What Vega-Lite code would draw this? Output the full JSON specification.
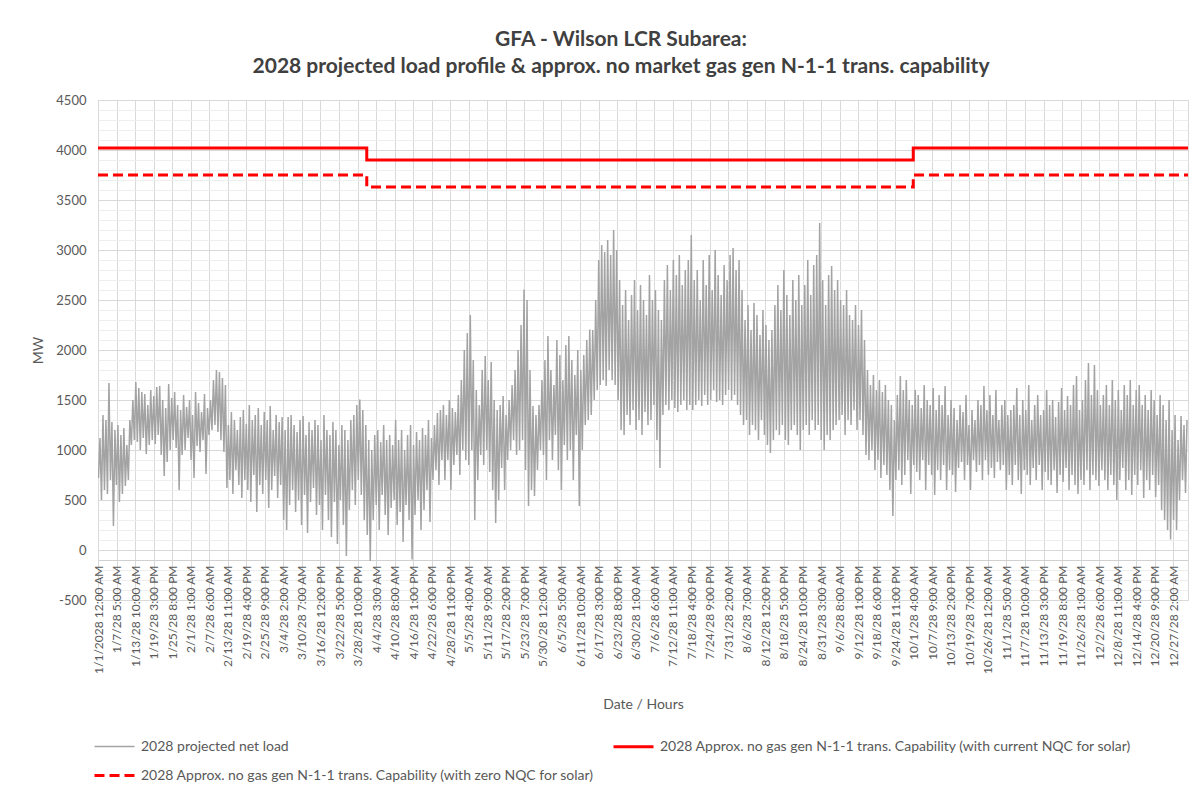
{
"$schema": "https://vega.github.io/schema/vega-lite/v6.json",
"autosize": "none",
"width": 1090,
"height": 500,
"padding": {"left": 98, "top": 100, "right": 6, "bottom": 192},
"background": "white",
"config": {"font": "Lato", "view": {"stroke": "#d9d9d9"}},
"title": {"text": ["GFA - Wilson LCR Subarea:", "2028 projected load profile & approx. no market gas gen N-1-1 trans. capability"], "fontSize": 21, "fontWeight": "bold", "color": "#404040", "anchor": "middle", "offset": 17, "lineHeight": 27, "dx": -22, "font": "Lato"},
"encoding": {
"x": {"field": "h", "type": "quantitative", "scale": {"domain": [0, 8760], "nice": false, "zero": false},
 "axis": {"values": [0,149,298,447,596,745,894,1043,1192,1341,1490,1639,1788,1937,2086,2235,2384,2533,2682,2831,2980,3129,3278,3427,3576,3725,3874,4023,4172,4321,4470,4619,4768,4917,5066,5215,5364,5513,5662,5811,5960,6109,6258,6407,6556,6705,6854,7003,7152,7301,7450,7599,7748,7897,8046,8195,8344,8493,8642],
 "labelExpr": "datum.value === 0 ? '1/1/2028 12:00 AM' : utcFormat(utc(2027, 0, 1, datum.value), '%-m/%-d/28 %-I:%M %p')",
 "labelAngle": -90, "labelFontSize": 12, "labelColor": "#595959", "labelPadding": 5, "ticks": false, "domain": true, "domainColor": "#d0d0d0", "offset": -40, "grid": true, "gridColor": "#d9d9d9", "labelOverlap": false, "labelBound": false, "labelFlush": false,
 "title": "Date / Hours", "titleFontSize": 14, "titleFontWeight": "normal", "titleColor": "#595959", "titlePadding": 24}},
"y": {"field": "v", "type": "quantitative", "scale": {"domain": [-500, 4500], "nice": false, "zero": false},
 "axis": {"values": [-500,-400,-300,-200,-100,0,100,200,300,400,500,600,700,800,900,1000,1100,1200,1300,1400,1500,1600,1700,1800,1900,2000,2100,2200,2300,2400,2500,2600,2700,2800,2900,3000,3100,3200,3300,3400,3500,3600,3700,3800,3900,4000,4100,4200,4300,4400,4500],
 "labelExpr": "datum.value % 500 === 0 ? '' + datum.value : ''",
 "ticks": false, "domain": false, "grid": true,
 "gridColor": {"condition": {"test": "datum.value % 500 === 0", "value": "#d9d9d9"}, "value": "#eeeeee"},
 "labelFontSize": 13, "labelColor": "#595959", "labelPadding": 12,
 "title": "MW", "titleFontSize": 14, "titleFontWeight": "normal", "titleColor": "#595959", "titlePadding": 10}},
"color": {"field": "s", "type": "nominal", "scale": {"domain": ["2028 projected net load", "2028 Approx. no gas gen N-1-1 trans. Capability (with zero NQC for solar)", "2028 Approx. no gas gen N-1-1 trans. Capability (with current NQC for solar)"], "range": ["#a3a3a3", "#ff0000", "#ff0000"]},
 "legend": {"title": null, "orient": "none", "legendX": -5, "legendY": 625, "columns": 2, "symbolType": "stroke", "symbolSize": 1600, "labelFontSize": 14, "labelColor": "#595959", "labelLimit": 700, "columnPadding": 12, "rowPadding": 0, "labelOffset": 5}},
"strokeDash": {"field": "s", "type": "nominal", "scale": {"domain": ["2028 projected net load", "2028 Approx. no gas gen N-1-1 trans. Capability (with zero NQC for solar)", "2028 Approx. no gas gen N-1-1 trans. Capability (with current NQC for solar)"], "range": [[1, 0], [10, 5], [1, 0]]}},
"strokeWidth": {"field": "s", "type": "nominal", "scale": {"type": "ordinal", "domain": ["2028 projected net load", "2028 Approx. no gas gen N-1-1 trans. Capability (with zero NQC for solar)", "2028 Approx. no gas gen N-1-1 trans. Capability (with current NQC for solar)"], "range": [1.5, 3, 3]}}
},
"layer": [
{
"data": {"values": [
{"h":4,"v":720},{"h":16,"v":1120},{"h":28,"v":500},{"h":40,"v":1350},{"h":52,"v":600},{"h":64,"v":1300},{"h":76,"v":560},{"h":88,"v":1670},{"h":100,"v":700},{"h":112,"v":1280},
{"h":124,"v":240},{"h":136,"v":1200},{"h":148,"v":650},{"h":160,"v":1250},{"h":172,"v":480},{"h":184,"v":1150},{"h":196,"v":560},{"h":208,"v":1220},{"h":220,"v":640},{"h":232,"v":1050},
{"h":244,"v":700},{"h":256,"v":1300},{"h":268,"v":1050},{"h":280,"v":1500},{"h":292,"v":1100},{"h":304,"v":1680},{"h":316,"v":1080},{"h":328,"v":1620},{"h":340,"v":1000},{"h":352,"v":1580},
{"h":364,"v":1120},{"h":376,"v":1560},{"h":388,"v":960},{"h":400,"v":1450},{"h":412,"v":1050},{"h":424,"v":1600},{"h":436,"v":1100},{"h":448,"v":1540},{"h":460,"v":1060},{"h":472,"v":1630},
{"h":484,"v":1150},{"h":496,"v":1640},{"h":508,"v":950},{"h":520,"v":1500},{"h":532,"v":740},{"h":544,"v":1420},{"h":556,"v":880},{"h":568,"v":1660},{"h":580,"v":1000},{"h":592,"v":1520},
{"h":604,"v":1100},{"h":616,"v":1580},{"h":628,"v":1020},{"h":640,"v":1450},{"h":652,"v":600},{"h":664,"v":1400},{"h":676,"v":950},{"h":688,"v":1550},{"h":700,"v":1000},{"h":712,"v":1430},
{"h":724,"v":1120},{"h":736,"v":1500},{"h":748,"v":900},{"h":760,"v":1350},{"h":772,"v":720},{"h":784,"v":1580},{"h":796,"v":1040},{"h":808,"v":1470},{"h":820,"v":980},{"h":832,"v":1380},
{"h":844,"v":1100},{"h":856,"v":1560},{"h":868,"v":760},{"h":880,"v":1420},{"h":892,"v":1150},{"h":904,"v":1500},{"h":916,"v":1200},{"h":928,"v":1700},{"h":940,"v":1250},{"h":952,"v":1800},
{"h":964,"v":1180},{"h":976,"v":1780},{"h":988,"v":1100},{"h":1000,"v":1720},{"h":1012,"v":980},{"h":1024,"v":1650},{"h":1036,"v":620},{"h":1048,"v":1250},{"h":1060,"v":700},{"h":1072,"v":1380},
{"h":1084,"v":560},{"h":1096,"v":1300},{"h":1108,"v":800},{"h":1120,"v":1200},{"h":1132,"v":650},{"h":1144,"v":1330},{"h":1156,"v":520},{"h":1168,"v":1400},{"h":1180,"v":700},{"h":1192,"v":1260},
{"h":1204,"v":600},{"h":1216,"v":1450},{"h":1228,"v":480},{"h":1240,"v":1300},{"h":1252,"v":750},{"h":1264,"v":1350},{"h":1276,"v":380},{"h":1288,"v":1420},{"h":1300,"v":650},{"h":1312,"v":1250},
{"h":1324,"v":560},{"h":1336,"v":1380},{"h":1348,"v":700},{"h":1360,"v":1300},{"h":1372,"v":420},{"h":1384,"v":1440},{"h":1396,"v":600},{"h":1408,"v":1200},{"h":1420,"v":740},{"h":1432,"v":1350},
{"h":1444,"v":520},{"h":1456,"v":1280},{"h":1468,"v":650},{"h":1480,"v":1330},{"h":1492,"v":300},{"h":1504,"v":1200},{"h":1516,"v":200},{"h":1528,"v":1330},{"h":1540,"v":450},{"h":1552,"v":1350},
{"h":1564,"v":600},{"h":1576,"v":1250},{"h":1588,"v":380},{"h":1600,"v":1180},{"h":1612,"v":500},{"h":1624,"v":1300},{"h":1636,"v":250},{"h":1648,"v":1340},{"h":1660,"v":550},{"h":1672,"v":1150},
{"h":1684,"v":170},{"h":1696,"v":1280},{"h":1708,"v":480},{"h":1720,"v":1200},{"h":1732,"v":620},{"h":1744,"v":1300},{"h":1756,"v":350},{"h":1768,"v":1250},{"h":1780,"v":450},{"h":1792,"v":1100},
{"h":1804,"v":200},{"h":1816,"v":1350},{"h":1828,"v":550},{"h":1840,"v":1200},{"h":1852,"v":300},{"h":1864,"v":1150},{"h":1876,"v":130},{"h":1888,"v":1280},{"h":1900,"v":480},{"h":1912,"v":1200},
{"h":1924,"v":60},{"h":1936,"v":1050},{"h":1948,"v":500},{"h":1960,"v":1250},{"h":1972,"v":250},{"h":1984,"v":1200},{"h":1996,"v":-60},{"h":2008,"v":1100},{"h":2020,"v":400},{"h":2032,"v":1300},
{"h":2044,"v":600},{"h":2056,"v":1350},{"h":2068,"v":450},{"h":2080,"v":1450},{"h":2092,"v":700},{"h":2104,"v":1505},{"h":2116,"v":550},{"h":2128,"v":1400},{"h":2140,"v":300},{"h":2152,"v":1250},
{"h":2164,"v":150},{"h":2176,"v":1100},{"h":2188,"v":-110},{"h":2200,"v":1000},{"h":2212,"v":300},{"h":2224,"v":1150},{"h":2236,"v":450},{"h":2248,"v":1200},{"h":2260,"v":200},{"h":2272,"v":1080},
{"h":2284,"v":550},{"h":2296,"v":1250},{"h":2308,"v":350},{"h":2320,"v":1100},{"h":2332,"v":150},{"h":2344,"v":1150},{"h":2356,"v":420},{"h":2368,"v":1050},{"h":2380,"v":500},{"h":2392,"v":1300},
{"h":2404,"v":250},{"h":2416,"v":1100},{"h":2428,"v":380},{"h":2440,"v":1200},{"h":2452,"v":80},{"h":2464,"v":1000},{"h":2476,"v":450},{"h":2488,"v":1150},{"h":2500,"v":300},{"h":2512,"v":1250},
{"h":2524,"v":-95},{"h":2536,"v":1050},{"h":2548,"v":350},{"h":2560,"v":1180},{"h":2572,"v":500},{"h":2584,"v":1100},{"h":2596,"v":200},{"h":2608,"v":1220},{"h":2620,"v":400},{"h":2632,"v":1150},
{"h":2644,"v":600},{"h":2656,"v":1300},{"h":2668,"v":280},{"h":2680,"v":1120},{"h":2692,"v":700},{"h":2704,"v":1250},{"h":2716,"v":800},{"h":2728,"v":1370},{"h":2740,"v":650},{"h":2752,"v":1400},
{"h":2764,"v":900},{"h":2776,"v":1450},{"h":2788,"v":700},{"h":2800,"v":1350},{"h":2812,"v":900},{"h":2824,"v":1500},{"h":2836,"v":600},{"h":2848,"v":1420},{"h":2860,"v":850},{"h":2872,"v":1380},
{"h":2884,"v":950},{"h":2896,"v":1550},{"h":2908,"v":750},{"h":2920,"v":1700},{"h":2932,"v":1000},{"h":2944,"v":2000},{"h":2956,"v":900},{"h":2968,"v":2170},{"h":2980,"v":850},{"h":2992,"v":2350},
{"h":3004,"v":1000},{"h":3016,"v":1900},{"h":3028,"v":300},{"h":3040,"v":1600},{"h":3052,"v":700},{"h":3064,"v":1450},{"h":3076,"v":950},{"h":3088,"v":1800},{"h":3100,"v":850},{"h":3112,"v":1940},
{"h":3124,"v":1000},{"h":3136,"v":1700},{"h":3148,"v":780},{"h":3160,"v":1880},{"h":3172,"v":600},{"h":3184,"v":1500},{"h":3196,"v":270},{"h":3208,"v":1400},{"h":3220,"v":500},{"h":3232,"v":1450},
{"h":3244,"v":820},{"h":3256,"v":1540},{"h":3268,"v":600},{"h":3280,"v":1350},{"h":3292,"v":900},{"h":3304,"v":1500},{"h":3316,"v":1000},{"h":3328,"v":1650},{"h":3340,"v":1100},{"h":3352,"v":1800},
{"h":3364,"v":950},{"h":3376,"v":2000},{"h":3388,"v":1000},{"h":3400,"v":2250},{"h":3412,"v":1100},{"h":3424,"v":2605},{"h":3436,"v":800},{"h":3448,"v":2500},{"h":3460,"v":440},{"h":3472,"v":1800},
{"h":3484,"v":600},{"h":3496,"v":1440},{"h":3508,"v":540},{"h":3520,"v":1350},{"h":3532,"v":800},{"h":3544,"v":1450},{"h":3556,"v":1000},{"h":3568,"v":1700},{"h":3580,"v":950},{"h":3592,"v":1900},
{"h":3604,"v":700},{"h":3616,"v":2140},{"h":3628,"v":1100},{"h":3640,"v":1800},{"h":3652,"v":900},{"h":3664,"v":1650},{"h":3676,"v":1150},{"h":3688,"v":2100},{"h":3700,"v":800},{"h":3712,"v":1950},
{"h":3724,"v":600},{"h":3736,"v":1700},{"h":3748,"v":1050},{"h":3760,"v":2050},{"h":3772,"v":900},{"h":3784,"v":2140},{"h":3796,"v":1000},{"h":3808,"v":1900},{"h":3820,"v":700},{"h":3832,"v":1750},
{"h":3844,"v":1150},{"h":3856,"v":2000},{"h":3868,"v":440},{"h":3880,"v":1800},{"h":3892,"v":1000},{"h":3904,"v":1950},{"h":3916,"v":1250},{"h":3928,"v":2100},{"h":3940,"v":1300},{"h":3952,"v":2205},
{"h":3964,"v":1350},{"h":3976,"v":2200},{"h":3988,"v":1500},{"h":4000,"v":2500},{"h":4012,"v":1600},{"h":4024,"v":2900},{"h":4036,"v":1650},{"h":4048,"v":3050},{"h":4060,"v":1700},{"h":4072,"v":2980},
{"h":4084,"v":1640},{"h":4096,"v":3100},{"h":4108,"v":1800},{"h":4120,"v":2950},{"h":4132,"v":1700},{"h":4144,"v":3200},{"h":4156,"v":1650},{"h":4168,"v":3000},{"h":4180,"v":1500},{"h":4192,"v":2700},
{"h":4204,"v":1200},{"h":4216,"v":2450},{"h":4228,"v":1150},{"h":4240,"v":2600},{"h":4252,"v":1350},{"h":4264,"v":2300},{"h":4276,"v":1250},{"h":4288,"v":2550},{"h":4300,"v":1400},{"h":4312,"v":2700},
{"h":4324,"v":1200},{"h":4336,"v":2400},{"h":4348,"v":1300},{"h":4360,"v":2650},{"h":4372,"v":1150},{"h":4384,"v":2500},{"h":4396,"v":1380},{"h":4408,"v":2350},{"h":4420,"v":1250},{"h":4432,"v":2750},
{"h":4444,"v":1300},{"h":4456,"v":2500},{"h":4468,"v":1450},{"h":4480,"v":2600},{"h":4492,"v":1100},{"h":4504,"v":2400},{"h":4516,"v":820},{"h":4528,"v":2300},{"h":4540,"v":1350},{"h":4552,"v":2700},
{"h":4564,"v":1450},{"h":4576,"v":2850},{"h":4588,"v":1400},{"h":4600,"v":2600},{"h":4612,"v":1500},{"h":4624,"v":2900},{"h":4636,"v":1420},{"h":4648,"v":2750},{"h":4660,"v":1380},{"h":4672,"v":2950},
{"h":4684,"v":1450},{"h":4696,"v":2650},{"h":4708,"v":1500},{"h":4720,"v":2800},{"h":4732,"v":1400},{"h":4744,"v":2900},{"h":4756,"v":1450},{"h":4768,"v":3150},{"h":4780,"v":1400},{"h":4792,"v":2700},
{"h":4804,"v":1450},{"h":4816,"v":2800},{"h":4828,"v":1500},{"h":4840,"v":2500},{"h":4852,"v":1440},{"h":4864,"v":2900},{"h":4876,"v":1550},{"h":4888,"v":2650},{"h":4900,"v":1450},{"h":4912,"v":2950},
{"h":4924,"v":1500},{"h":4936,"v":2600},{"h":4948,"v":1600},{"h":4960,"v":3000},{"h":4972,"v":1480},{"h":4984,"v":2750},{"h":4996,"v":1500},{"h":5008,"v":2550},{"h":5020,"v":1450},{"h":5032,"v":2850},
{"h":5044,"v":1550},{"h":5056,"v":2700},{"h":5068,"v":1600},{"h":5080,"v":2950},{"h":5092,"v":1500},{"h":5104,"v":3020},{"h":5116,"v":1550},{"h":5128,"v":2800},{"h":5140,"v":1450},{"h":5152,"v":2900},
{"h":5164,"v":1350},{"h":5176,"v":2600},{"h":5188,"v":1250},{"h":5200,"v":2300},{"h":5212,"v":1300},{"h":5224,"v":2450},{"h":5236,"v":1150},{"h":5248,"v":2200},{"h":5260,"v":1250},{"h":5272,"v":2470},
{"h":5284,"v":1200},{"h":5296,"v":2350},{"h":5308,"v":1100},{"h":5320,"v":2150},{"h":5332,"v":1300},{"h":5344,"v":2400},{"h":5356,"v":1150},{"h":5368,"v":2250},{"h":5380,"v":1050},{"h":5392,"v":2100},
{"h":5404,"v":970},{"h":5416,"v":2200},{"h":5428,"v":1100},{"h":5440,"v":2450},{"h":5452,"v":1200},{"h":5464,"v":2650},{"h":5476,"v":1150},{"h":5488,"v":2400},{"h":5500,"v":1250},{"h":5512,"v":2800},
{"h":5524,"v":1100},{"h":5536,"v":2550},{"h":5548,"v":1050},{"h":5560,"v":2350},{"h":5572,"v":1200},{"h":5584,"v":2700},{"h":5596,"v":1250},{"h":5608,"v":2500},{"h":5620,"v":1150},{"h":5632,"v":2750},
{"h":5644,"v":1000},{"h":5656,"v":2450},{"h":5668,"v":1200},{"h":5680,"v":2650},{"h":5692,"v":1250},{"h":5704,"v":2900},{"h":5716,"v":1150},{"h":5728,"v":2550},{"h":5740,"v":1300},{"h":5752,"v":2850},
{"h":5764,"v":1200},{"h":5776,"v":2950},{"h":5788,"v":1250},{"h":5800,"v":3270},{"h":5812,"v":1100},{"h":5824,"v":2700},{"h":5836,"v":1000},{"h":5848,"v":2450},{"h":5860,"v":1150},{"h":5872,"v":2750},
{"h":5884,"v":1100},{"h":5896,"v":2840},{"h":5908,"v":1200},{"h":5920,"v":2600},{"h":5932,"v":1250},{"h":5944,"v":2700},{"h":5956,"v":1300},{"h":5968,"v":2500},{"h":5980,"v":1350},{"h":5992,"v":2450},
{"h":6004,"v":1150},{"h":6016,"v":2600},{"h":6028,"v":1300},{"h":6040,"v":2350},{"h":6052,"v":1250},{"h":6064,"v":2300},{"h":6076,"v":1400},{"h":6088,"v":2450},{"h":6100,"v":1200},{"h":6112,"v":2250},
{"h":6124,"v":1300},{"h":6136,"v":2400},{"h":6148,"v":1150},{"h":6160,"v":2100},{"h":6172,"v":950},{"h":6184,"v":1800},{"h":6196,"v":900},{"h":6208,"v":1650},{"h":6220,"v":1000},{"h":6232,"v":1750},
{"h":6244,"v":800},{"h":6256,"v":1600},{"h":6268,"v":900},{"h":6280,"v":1700},{"h":6292,"v":720},{"h":6304,"v":1580},{"h":6316,"v":850},{"h":6328,"v":1650},{"h":6340,"v":750},{"h":6352,"v":1500},
{"h":6364,"v":600},{"h":6376,"v":1450},{"h":6388,"v":340},{"h":6400,"v":1300},{"h":6412,"v":700},{"h":6424,"v":1550},{"h":6436,"v":800},{"h":6448,"v":1740},{"h":6460,"v":650},{"h":6472,"v":1600},
{"h":6484,"v":750},{"h":6496,"v":1700},{"h":6508,"v":900},{"h":6520,"v":1500},{"h":6532,"v":560},{"h":6544,"v":1450},{"h":6556,"v":850},{"h":6568,"v":1600},{"h":6580,"v":780},{"h":6592,"v":1550},
{"h":6604,"v":700},{"h":6616,"v":1420},{"h":6628,"v":900},{"h":6640,"v":1650},{"h":6652,"v":600},{"h":6664,"v":1500},{"h":6676,"v":850},{"h":6688,"v":1450},{"h":6700,"v":750},{"h":6712,"v":1620},
{"h":6724,"v":550},{"h":6736,"v":1400},{"h":6748,"v":800},{"h":6760,"v":1550},{"h":6772,"v":700},{"h":6784,"v":1450},{"h":6796,"v":850},{"h":6808,"v":1640},{"h":6820,"v":600},{"h":6832,"v":1350},
{"h":6844,"v":800},{"h":6856,"v":1500},{"h":6868,"v":750},{"h":6880,"v":1420},{"h":6892,"v":580},{"h":6904,"v":1300},{"h":6916,"v":820},{"h":6928,"v":1450},{"h":6940,"v":880},{"h":6952,"v":1380},
{"h":6964,"v":700},{"h":6976,"v":1550},{"h":6988,"v":850},{"h":7000,"v":1250},{"h":7012,"v":600},{"h":7024,"v":1400},{"h":7036,"v":900},{"h":7048,"v":1300},{"h":7060,"v":780},{"h":7072,"v":1500},
{"h":7084,"v":850},{"h":7096,"v":1450},{"h":7108,"v":700},{"h":7120,"v":1640},{"h":7132,"v":900},{"h":7144,"v":1400},{"h":7156,"v":750},{"h":7168,"v":1550},{"h":7180,"v":820},{"h":7192,"v":1350},
{"h":7204,"v":720},{"h":7216,"v":1600},{"h":7228,"v":880},{"h":7240,"v":1300},{"h":7252,"v":800},{"h":7264,"v":1450},{"h":7276,"v":850},{"h":7288,"v":1500},{"h":7300,"v":600},{"h":7312,"v":1350},
{"h":7324,"v":750},{"h":7336,"v":1400},{"h":7348,"v":650},{"h":7360,"v":1450},{"h":7372,"v":850},{"h":7384,"v":1620},{"h":7396,"v":700},{"h":7408,"v":1350},{"h":7420,"v":560},{"h":7432,"v":1500},
{"h":7444,"v":800},{"h":7456,"v":1400},{"h":7468,"v":750},{"h":7480,"v":1650},{"h":7492,"v":650},{"h":7504,"v":1300},{"h":7516,"v":820},{"h":7528,"v":1450},{"h":7540,"v":700},{"h":7552,"v":1550},
{"h":7564,"v":850},{"h":7576,"v":1350},{"h":7588,"v":600},{"h":7600,"v":1400},{"h":7612,"v":780},{"h":7624,"v":1600},{"h":7636,"v":700},{"h":7648,"v":1450},{"h":7660,"v":650},{"h":7672,"v":1500},
{"h":7684,"v":800},{"h":7696,"v":1330},{"h":7708,"v":570},{"h":7720,"v":1480},{"h":7732,"v":750},{"h":7744,"v":1620},{"h":7756,"v":680},{"h":7768,"v":1400},{"h":7780,"v":820},{"h":7792,"v":1540},
{"h":7804,"v":600},{"h":7816,"v":1450},{"h":7828,"v":750},{"h":7840,"v":1650},{"h":7852,"v":650},{"h":7864,"v":1740},{"h":7876,"v":560},{"h":7888,"v":1400},{"h":7900,"v":700},{"h":7912,"v":1500},
{"h":7924,"v":650},{"h":7936,"v":1700},{"h":7948,"v":800},{"h":7960,"v":1870},{"h":7972,"v":600},{"h":7984,"v":1550},{"h":7996,"v":750},{"h":8008,"v":1850},{"h":8020,"v":700},{"h":8032,"v":1600},
{"h":8044,"v":640},{"h":8056,"v":1450},{"h":8068,"v":800},{"h":8080,"v":1550},{"h":8092,"v":700},{"h":8104,"v":1650},{"h":8116,"v":600},{"h":8128,"v":1450},{"h":8140,"v":750},{"h":8152,"v":1700},
{"h":8164,"v":650},{"h":8176,"v":1500},{"h":8188,"v":500},{"h":8200,"v":1600},{"h":8212,"v":700},{"h":8224,"v":1400},{"h":8236,"v":820},{"h":8248,"v":1650},{"h":8260,"v":600},{"h":8272,"v":1550},
{"h":8284,"v":700},{"h":8296,"v":1700},{"h":8308,"v":550},{"h":8320,"v":1450},{"h":8332,"v":750},{"h":8344,"v":1600},{"h":8356,"v":650},{"h":8368,"v":1650},{"h":8380,"v":800},{"h":8392,"v":1450},
{"h":8404,"v":520},{"h":8416,"v":1550},{"h":8428,"v":700},{"h":8440,"v":1400},{"h":8452,"v":600},{"h":8464,"v":1600},{"h":8476,"v":750},{"h":8488,"v":1500},{"h":8500,"v":530},{"h":8512,"v":1350},
{"h":8524,"v":650},{"h":8536,"v":1550},{"h":8548,"v":400},{"h":8560,"v":1450},{"h":8572,"v":300},{"h":8584,"v":1300},{"h":8596,"v":200},{"h":8608,"v":1500},{"h":8620,"v":105},{"h":8632,"v":1200},
{"h":8644,"v":300},{"h":8656,"v":1350},{"h":8668,"v":200},{"h":8680,"v":1100},{"h":8692,"v":500},{"h":8704,"v":1340},{"h":8716,"v":700},{"h":8728,"v":1250},{"h":8740,"v":570},{"h":8752,"v":1300}
]},
"transform": [{"calculate": "'2028 projected net load'", "as": "s"}],
"mark": {"type": "line", "clip": true}
},
{
"data": {"values": [
{"h": 0, "v": 4020, "s": "2028 Approx. no gas gen N-1-1 trans. Capability (with current NQC for solar)"},
{"h": 2160, "v": 3900, "s": "2028 Approx. no gas gen N-1-1 trans. Capability (with current NQC for solar)"},
{"h": 6552, "v": 4020, "s": "2028 Approx. no gas gen N-1-1 trans. Capability (with current NQC for solar)"},
{"h": 8760, "v": 4020, "s": "2028 Approx. no gas gen N-1-1 trans. Capability (with current NQC for solar)"},
{"h": 0, "v": 3750, "s": "2028 Approx. no gas gen N-1-1 trans. Capability (with zero NQC for solar)"},
{"h": 2160, "v": 3630, "s": "2028 Approx. no gas gen N-1-1 trans. Capability (with zero NQC for solar)"},
{"h": 6552, "v": 3750, "s": "2028 Approx. no gas gen N-1-1 trans. Capability (with zero NQC for solar)"},
{"h": 8760, "v": 3750, "s": "2028 Approx. no gas gen N-1-1 trans. Capability (with zero NQC for solar)"}
]},
"mark": {"type": "line", "interpolate": "step-after", "clip": true}
}
]
}
